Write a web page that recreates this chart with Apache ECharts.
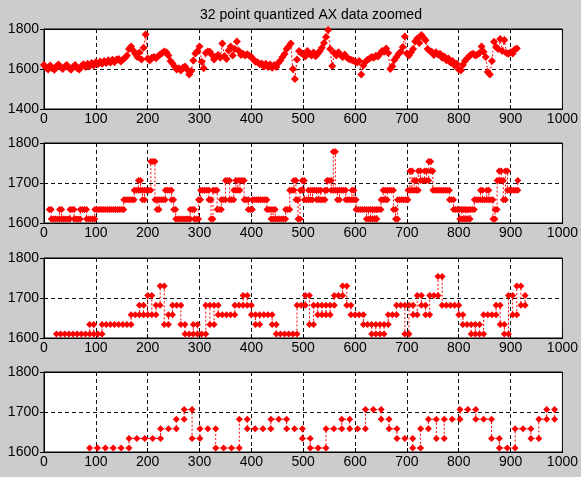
<!DOCTYPE html>
<html>
<head>
<meta charset="utf-8">
<script src="https://cdn.jsdelivr.net/npm/echarts@6/dist/echarts.min.js"></script>
<style>
  html, body { margin: 0; padding: 0; background: #cccccc; }
  #main { width: 581px; height: 477px; }
</style>
</head>
<body>
<div id="main"></div>
<script>
// raw AX samples (every 4th sample, x = 0, 4, 8 ...)
const rawStart = 0
const rawStep = 4
const rawAX = [
  1620,1606,1598,1618,1604,1596,1614,1622,1610,1600,1612,1620,1606,
  1596,1610,1620,1604,1598,1614,1624,1610,1626,1614,1630,1618,1634,
  1624,1638,1626,1640,1630,1644,1632,1646,1634,1648,1650,1638,
  1648,1655,1668,1700,1712,1692,1676,1660,1682,1648,1706,1772,
  1652,1642,1656,1660,1654,1664,1672,1680,1688,1684,1668,1640,
  1628,1612,1598,1604,1592,1606,1612,1598,1572,1590,1642,1678,1690,
  1712,1636,1604,1680,1688,1686,1670,1648,1662,1670,1656,1728,1665,
  1650,1692,1712,1668,1700,1738,1690,1670,1676,1668,1674,1666,1660,
  1648,1636,1634,1624,1628,1612,1626,1610,1622,1606,1620,1610,
  1630,1642,1660,1675,1700,1712,1728,1600,1550,1648,1690,1680,1672,
  1662,1690,1676,1668,1682,1664,1676,1690,1706,1730,1760,1795,1700,1615,1680,1668,1684,1670,1660,1672,1658,1650,1646,
  1642,1638,1632,1640,1572,1618,1636,1646,1652,1660,1656,1666,1662,1676,
  1690,1686,1702,1680,1600,1614,1645,1660,1676,1686,1710,1762,1678,
  1668,1684,1700,1738,1752,1730,1770,1756,1744,1700,1690,1686,1670,
  1684,1672,1676,1656,1662,1644,1652,1632,1640,1618,1626,1598,1592,
  1620,1640,1652,1664,1672,1676,1668,1672,1680,1712,1686,1660,1585,
  1572,1640,1736,1710,1700,1750,1690,1745,1680,1676,1684,1678,1698,1702
]

// quantized, decimated by 4
const q4Start = 10
const q4Step = 4
const q4 = [
  1634,1610,1610,1610,1610, 1634,1610,1610,1610,1610,
  1634,1634,1610,1610,1610, 1634,1634,1634,1610,1610,
  1610,1610,1634,
  1634,1634,1634,1634,1634,1634,1634,1634,1634,1634,1634,1634,1634,
  1658,1658,1658,1658,1658,
  1682,1682,1706,1682,1658,1682,1682,1682,
  1754,1754,
  1658,1634,1658,1658,1658,1682,1682,1682,1658,1634,
  1610,1610,1610,1610,1610,1610,1610,
  1634,1634,1610,1610,
  1658,1682,1682,1682,1682,1658,1610,
  1682,1682,1634,1634,1658,1658,
  1706,1706,1658,1658,1682,1706,1682,1706,1706,1658,1658,1634,1634,
  1658,1658,1658,1658,1658,1658,1658,
  1634,1634,1610,1634,1610,1610,1610,1610,1610,1634,1634,
  1682,1682,1706,1658,1610,1682,1706,
  1658,1658,1682,1658,1682,1682,1658,1682,1658,1658,1682,1706,1706,1682,
  1778,1682,1658,1682,1682,1682,1658,1658,1658,1682,1658,
  1634,1634,1634,1634,1634,1610,1634,1610,1634,1610,1634,1634,
  1658,1682,1658,1682,1682,1682,1634,1610,1658,1658,1658,1658,1658,
  1682,1730,1682,1706,1682,1730,1706,1706,1730,1706,1754,1730,1682,
  1682,1682,1682,1682,1682,1682,1682,
  1658,1658,1634,1634,1634,1610,1634,1610,1634,1610,1634,1634,1658,1658,1658,
  1682,1658,1658,1682,1658,1658,1610,1634,
  1706,1730,1706,1658,1730,1682,1682,1682,1682,1682,1706
]

// quantized, decimated by 8
const q8Start = 24
const q8Step = 8
const q8 = [
  1610,1610,1610,1610,1610,1610,1610,1610,
  1634,
  1610,1610,
  1634,1634,1634,1634,1634,1634,1634,
  1658,1658,
  1682,1658,1706,1658,1682,1730,
  1634,1658,1682,1682,1634,
  1610,1610,1634,1610,1610,
  1682,1634,1682,1658,1658,1658,1658,
  1682,1682,1706,1682,1658,
  1634,1658,1658,1658,1634,
  1610,1610,1610,1610,1610,
  1682,1682,1706,1634,1682,1658,1682,1658,1682,1706,1706,
  1730,1682,1658,1658,1658,1634,1634,
  1610,1634,1610,1634,1658,1658,1682,1682,
  1610,1682,1658,1706,1682,1658,1706,1706,
  1754,1682,1682,1682,1682,1658,1634,1634,
  1610,1634,1610,1658,1658,1658,
  1682,1634,1610,1706,1658,1730,1682,1706
]

// quantized, decimated by 16
const q16Start = 88
const q16Step = 15.2
const q16 = [
  1610,1610,1610,1610,1610,
  1634,1634,1634,1634,
  1658,1658,1682,1706,1634,1658,1658,
  1610,1610,1610,1682,
  1658,1658,1658,1682,1682,1658,1658,
  1634,1610,1610,1658,1658,1682,1658,1658,
  1706,1706,1682,1658,1634,1634,1610,
  1658,1682,1634,1682,1682,1706,1706,1682,1682,
  1634,1610,1610,1658,1658,1634,1682,1706,1682
]

const titleText = '32 point quantized AX data zoomed'
const xRange = [0, 1000, 100]
const yRanges = [[1400, 1800, 200], [1600, 1800, 100], [1600, 1800, 100], [1600, 1800, 100]]

const FONT = 'Liberation Sans, Arial, sans-serif'
const RED = '#ff0000'

function samplePoints (start, step, vals) {
  return vals.map((v, i) => [start + step * i, v])
}

// stairs: hold each value until the next sample, marker at both corners
function stairPoints (start, step, vals) {
  const pts = [[start, vals[0]]]
  for (let i = 1; i < vals.length; i++) {
    const x = start + step * i
    if (vals[i] !== vals[i - 1]) pts.push([x, vals[i - 1]])
    pts.push([x, vals[i]])
  }
  return pts
}

const tops = [29, 143, 258, 372]

const grids = tops.map(t => ({
  left: 44, top: t, width: 523, height: 80,
  show: true, backgroundColor: '#ffffff', borderColor: '#000000', borderWidth: 1
}))

const plain = v => String(v)

const xAxes = []
const yAxes = []
tops.forEach((t, i) => {
  const yr = yRanges[i]
  xAxes.push({
    gridIndex: i, type: 'value', position: 'bottom',
    min: xRange[0], max: xRange[1], interval: xRange[2],
    axisLine: { show: true, lineStyle: { color: '#000', width: 1 } },
    axisTick: { show: true, inside: true, length: 4, lineStyle: { color: '#000' } },
    axisLabel: { show: true, color: '#000', fontSize: 14, fontFamily: FONT, margin: 3,
      formatter: plain, showMinLabel: true, showMaxLabel: true, hideOverlap: false },
    splitLine: { show: true, lineStyle: { color: '#111', width: 1, type: [4, 3] } }
  })
  xAxes.push({
    gridIndex: i, type: 'value', position: 'top',
    min: xRange[0], max: xRange[1], interval: xRange[2],
    axisLine: { show: true, lineStyle: { color: '#000', width: 1 } },
    axisTick: { show: true, inside: true, length: 4, lineStyle: { color: '#000' } },
    axisLabel: { show: false },
    splitLine: { show: false }
  })
  yAxes.push({
    gridIndex: i, type: 'value', position: 'left',
    min: yr[0], max: yr[1], interval: yr[2],
    axisLine: { show: true, lineStyle: { color: '#000', width: 1 } },
    axisTick: { show: true, inside: true, length: 4, lineStyle: { color: '#000' } },
    axisLabel: { show: true, color: '#000', fontSize: 14, fontFamily: FONT, margin: 5,
      formatter: plain, showMinLabel: true, showMaxLabel: true },
    splitLine: { show: true, lineStyle: { color: '#111', width: 1, type: [4, 3] } }
  })
  yAxes.push({
    gridIndex: i, type: 'value', position: 'right',
    min: yr[0], max: yr[1], interval: yr[2],
    axisLine: { show: true, lineStyle: { color: '#000', width: 1 } },
    axisTick: { show: true, inside: true, length: 4, lineStyle: { color: '#000' } },
    axisLabel: { show: false },
    splitLine: { show: false }
  })
})

function lineSeries (i, data, size) {
  return {
    type: 'line', xAxisIndex: i * 2, yAxisIndex: i * 2,
    data: data,
    symbol: 'diamond', symbolSize: size, showAllSymbol: true,
    itemStyle: { color: RED },
    lineStyle: { color: RED, width: 1, type: [2, 2] },
    emphasis: { disabled: true },
    clip: true
  }
}

const chart = echarts.init(document.getElementById('main'), null, { renderer: 'canvas' })
chart.setOption({
  backgroundColor: '#cccccc',
  animation: false,
  title: {
    text: titleText, left: 306, top: 3, textAlign: 'center',
    textStyle: { color: '#000', fontSize: 14, fontWeight: 'normal', fontFamily: FONT }
  },
  grid: grids,
  xAxis: xAxes,
  yAxis: yAxes,
  series: [
    lineSeries(0, samplePoints(rawStart, rawStep, rawAX), 8),
    lineSeries(1, stairPoints(q4Start, q4Step, q4), 7),
    lineSeries(2, stairPoints(q8Start, q8Step, q8), 7),
    lineSeries(3, stairPoints(q16Start, q16Step, q16), 7)
  ]
})
</script>
</body>
</html>
